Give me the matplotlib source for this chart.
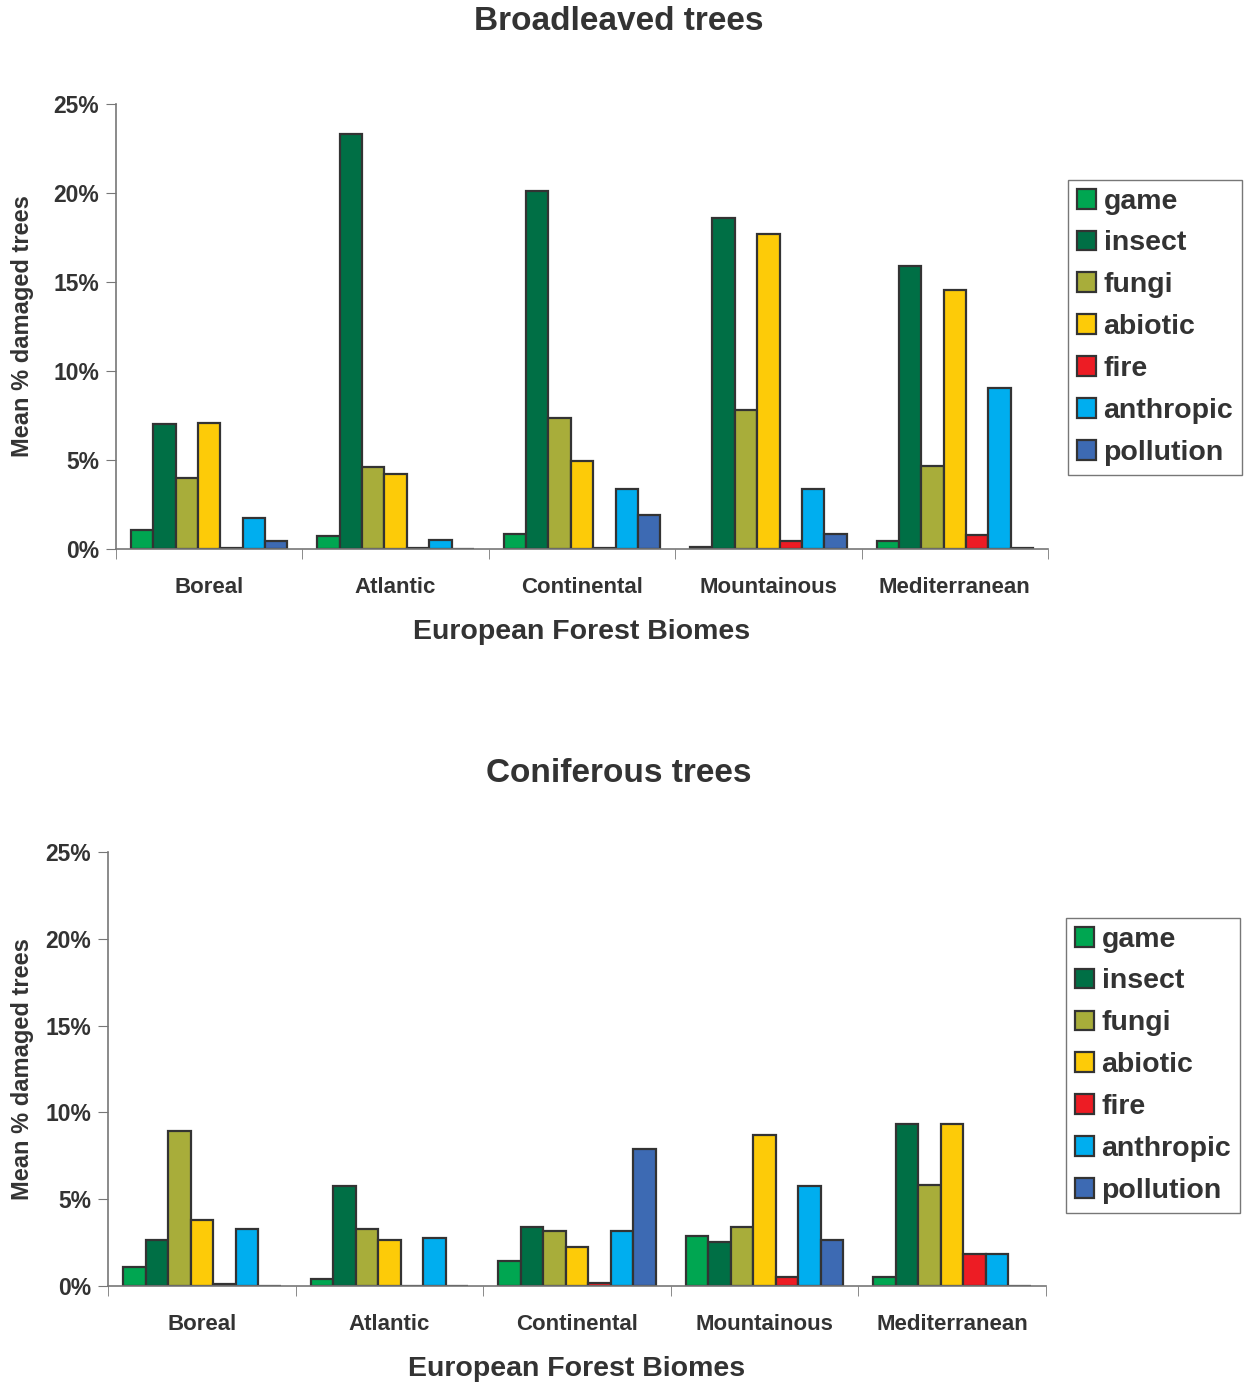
import matplotlib
matplotlib.use("Agg")
import matplotlib.pyplot as plt
import numpy as np
from matplotlib.ticker import PercentFormatter

plt.rcParams['font.family'] = ['Liberation Sans', 'DejaVu Sans']

biomes = ["Boreal", "Atlantic", "Continental", "Mountainous", "Mediterranean"]
agents = ["game", "insect", "fungi", "abiotic", "fire", "anthropic", "pollution"]
colors = ["#00A651", "#006F45", "#A8AD3A", "#FDCB08", "#ED1C24", "#00AEEF", "#3D6AB3"]

# Broadleaved trees, % per agent, in biome order
broad_game = [1.07, 0.73, 0.85, 0.12, 0.45]
broad_insect = [7.0, 23.3, 20.1, 18.6, 15.9]
broad_fungi = [4.0, 4.6, 7.36, 7.8, 4.66]
broad_abiotic = [7.1, 4.2, 4.95, 17.7, 14.55]
broad_fire = [0.05, 0.05, 0.05, 0.45, 0.8]
broad_anthropic = [1.75, 0.5, 3.37, 3.37, 9.05]
broad_pollution = [0.45, 0.0, 1.9, 0.85, 0.05]

# Coniferous trees
conif_game = [1.1, 0.4, 1.44, 2.88, 0.52]
conif_insect = [2.65, 5.76, 3.4, 2.53, 9.33]
conif_fungi = [8.93, 3.28, 3.17, 3.4, 5.82]
conif_abiotic = [3.8, 2.65, 2.25, 8.7, 9.33]
conif_fire = [0.1, 0.0, 0.17, 0.52, 1.84]
conif_anthropic = [3.28, 2.76, 3.17, 5.76, 1.84]
conif_pollution = [0.0, 0.0, 7.9, 2.65, 0.0]

broad = [broad_game, broad_insect, broad_fungi, broad_abiotic, broad_fire, broad_anthropic, broad_pollution]
conif = [conif_game, conif_insect, conif_fungi, conif_abiotic, conif_fire, conif_anthropic, conif_pollution]

W, H = 1244, 1385
fig = plt.figure(figsize=(W / 100, H / 100), dpi=100)

def draw(rect, data, title, title_y, legend_box):
    ax = fig.add_axes(rect)
    x = np.arange(len(biomes))
    bw = 0.12
    handles = []
    for i, (vals, c, name) in enumerate(zip(data, colors, agents)):
        b = ax.bar(x + (i - 3) * bw, vals, width=bw, color=c, edgecolor="#333333",
                   linewidth=1.6, label=name)
        handles.append(b)
    ax.set_xlim(-0.5, len(biomes) - 0.5)
    ax.set_ylim(0, 25)
    ax.set_yticks([0, 5, 10, 15, 20, 25])
    ax.yaxis.set_major_formatter(PercentFormatter(decimals=0))
    ax.set_xticks(x)
    ax.set_xticklabels(biomes, fontsize=16, fontweight="bold", color="#333333")
    ax.set_xticks(np.arange(-0.5, len(biomes)), minor=True)
    ax.tick_params(axis="x", which="major", length=0, pad=20)
    ax.tick_params(axis="x", which="minor", length=7, direction="out", color="#777777")
    ax.tick_params(axis="y", length=7, direction="out", color="#777777",
                   labelsize=16.5, labelcolor="#333333", pad=5)
    for lab in ax.get_yticklabels():
        lab.set_fontweight("bold")
    for s in ["top", "right"]:
        ax.spines[s].set_visible(False)
    for s in ["left", "bottom"]:
        ax.spines[s].set_color("#777777")
        ax.spines[s].set_linewidth(1.2)
    ax.set_xlabel("European Forest Biomes", fontsize=20.5, fontweight="bold",
                  color="#333333", labelpad=15)
    ax.set_ylabel("Mean % damaged trees", fontsize=17, fontweight="bold",
                  color="#333333")
    ax.yaxis.set_label_coords(34 / W, rect[1] + rect[3] / 2, transform=fig.transFigure)
    fig.text(0.497, title_y, title, ha="center", va="center", fontsize=24,
             fontweight="bold", color="#333333")
    leg = fig.legend(handles=handles, labels=agents, loc="upper left",
                     bbox_to_anchor=legend_box, bbox_transform=fig.transFigure,
                     prop={"size": 20.5, "weight": "bold"}, frameon=True,
                     fancybox=False, edgecolor="#555555", handlelength=0.7,
                     handleheight=0.7, handletextpad=0.25, labelspacing=0.56,
                     borderpad=0.3, borderaxespad=0)
    leg.get_frame().set_linewidth(1.0)
    for t in leg.get_texts():
        t.set_color("#333333")
    return ax

# top axes: x 116..1048, y 104..549 (pixels)
draw([116 / W, 1 - 549 / H, (1048 - 116) / W, (549 - 104) / H], broad,
     "Broadleaved trees", 1 - 22 / H, (1068 / W, 1 - 180 / H))
# bottom axes: x 108..1046, y 852..1286
draw([108 / W, 1 - 1286 / H, (1046 - 108) / W, (1286 - 852) / H], conif,
     "Coniferous trees", 1 - 774 / H, (1066 / W, 1 - 918 / H))

fig.savefig("out.png", dpi=100, facecolor="white")
